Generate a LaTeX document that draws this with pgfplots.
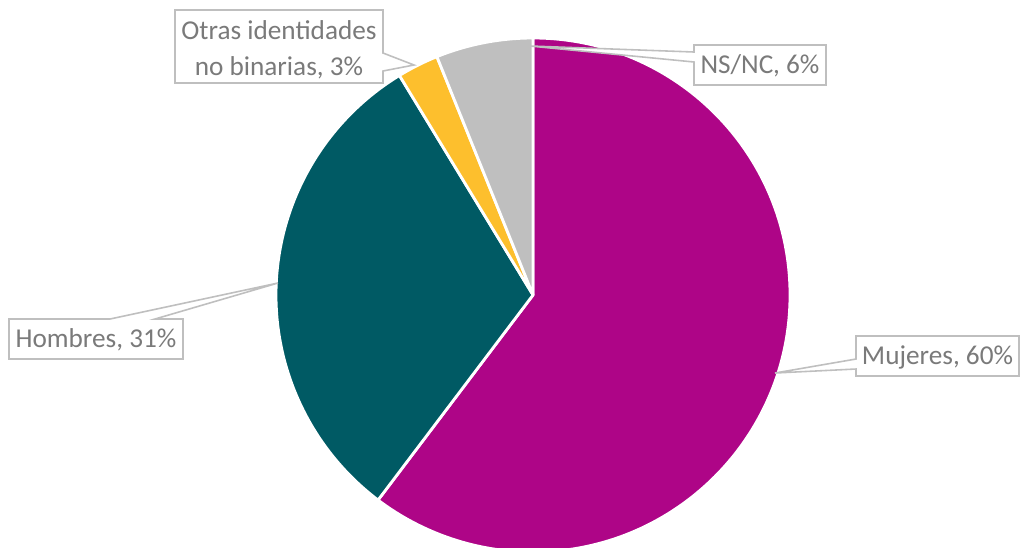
\documentclass[border=0pt]{standalone}
\usepackage{pgfplots}
\usepackage{pgfplotstable}
\pgfplotsset{compat=1.18}
\usepackage{fontspec}
\setmainfont{Carlito}
\definecolor{mujeres}{HTML}{AE0587}
\definecolor{hombres}{HTML}{005A64}
\definecolor{otras}{HTML}{FDBF2D}
\definecolor{nsnc}{HTML}{BFBFBF}
\definecolor{lbltext}{HTML}{7A7A7A}
\definecolor{lblborder}{HTML}{BFBFBF}
\pgfplotstableread{
label value color
Mujeres 60.3 mujeres
Hombres 31.0 hombres
Otras 2.6 otras
NSNC 6.1 nsnc
}\piedata
\begin{document}
\begin{tikzpicture}
\begin{axis}[
  width=10.2cm, height=5.47cm, scale only axis,
  xmin=0, xmax=1020, ymin=0, ymax=547,
  hide axis, clip=false,
]
\pgfplotsextra{
  \gdef\startang{90}
  \foreach \i in {0,...,3}{
    \pgfplotstablegetelem{\i}{value}\of\piedata \let\v\pgfplotsretval
    \pgfplotstablegetelem{\i}{color}\of\piedata \let\c\pgfplotsretval
    \pgfmathsetmacro\endang{\startang-3.6*\v}
    \fill[\c, draw=white, line width=0.8pt, line join=round]
      (axis cs:533,252) -- ++(\startang:2.57cm)
      arc[start angle=\startang, end angle=\endang, radius=2.57cm] -- cycle;
    \xdef\startang{\endang}
  }
  \begin{scope}[every node/.style={text=lbltext, font=\fontsize{7.75}{10.2}\selectfont, inner sep=0pt, align=center}]
  % Mujeres
  \filldraw[fill=white, draw=lblborder, line width=0.45pt]
    (axis cs:856,211) -- (axis cs:1019,211) -- (axis cs:1019,171) -- (axis cs:856,171)
    -- (axis cs:856,178) -- (axis cs:775,174) -- (axis cs:856,188) -- cycle;
  \node at (axis cs:937.5,190) {Mujeres, 60\%};
  % NS/NC
  \filldraw[fill=white, draw=lblborder, line width=0.45pt]
    (axis cs:694,502) -- (axis cs:826,502) -- (axis cs:826,462) -- (axis cs:694,462)
    -- (axis cs:694,485) -- (axis cs:530,501) -- (axis cs:694,495) -- cycle;
  \node at (axis cs:760,481) {NS/NC, 6\%};
  % Otras
  \filldraw[fill=white, draw=lblborder, line width=0.45pt]
    (axis cs:175,537) -- (axis cs:383,537) -- (axis cs:383,494) -- (axis cs:414,482)
    -- (axis cs:383,476) -- (axis cs:383,464) -- (axis cs:175,464) -- cycle;
  \node at (axis cs:279,497.5) {Otras identidades\\no binarias, 3\%};
  % Hombres
  \filldraw[fill=white, draw=lblborder, line width=0.45pt]
    (axis cs:9,228) -- (axis cs:110,228) -- (axis cs:278,264) -- (axis cs:155,228)
    -- (axis cs:183,228) -- (axis cs:183,188) -- (axis cs:9,188) -- cycle;
  \node at (axis cs:96,207) {Hombres, 31\%};
  \end{scope}
}
\end{axis}
\pgfresetboundingbox
\path (current axis.south west) rectangle (current axis.north east);
\end{tikzpicture}
\end{document}
